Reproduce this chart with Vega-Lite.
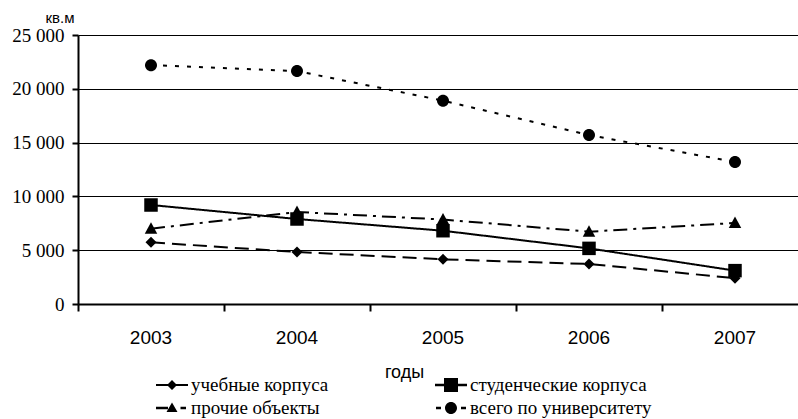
{
  "$schema": "https://vega.github.io/schema/vega-lite/v6.json",
  "width": 720,
  "height": 269,
  "autosize": {"type": "none"},
  "padding": {"left": 78, "top": 35, "right": 0, "bottom": 115},
  "background": "white",
  "config": {
    "view": {"stroke": null},
    "font": "Liberation Sans",
    "axis": {"labelColor": "black", "titleColor": "black", "titleFontWeight": "normal"}
  },
  "data": {
    "values": [
      {"year": "2003", "series": "учебные корпуса", "value": 5730},
      {"year": "2004", "series": "учебные корпуса", "value": 4830},
      {"year": "2005", "series": "учебные корпуса", "value": 4150},
      {"year": "2006", "series": "учебные корпуса", "value": 3720},
      {"year": "2007", "series": "учебные корпуса", "value": 2400},
      {"year": "2003", "series": "студенческие корпуса", "value": 9200},
      {"year": "2004", "series": "студенческие корпуса", "value": 7900},
      {"year": "2005", "series": "студенческие корпуса", "value": 6810},
      {"year": "2006", "series": "студенческие корпуса", "value": 5170},
      {"year": "2007", "series": "студенческие корпуса", "value": 3100},
      {"year": "2003", "series": "прочие объекты", "value": 7000},
      {"year": "2004", "series": "прочие объекты", "value": 8550},
      {"year": "2005", "series": "прочие объекты", "value": 7850},
      {"year": "2006", "series": "прочие объекты", "value": 6720},
      {"year": "2007", "series": "прочие объекты", "value": 7530},
      {"year": "2003", "series": "всего по университету", "value": 22200},
      {"year": "2004", "series": "всего по университету", "value": 21650},
      {"year": "2005", "series": "всего по университету", "value": 18900},
      {"year": "2006", "series": "всего по университету", "value": 15700},
      {"year": "2007", "series": "всего по университету", "value": 13200}
    ]
  },
  "resolve": {"scale": {"shape": "independent"}, "legend": {"shape": "independent"}},
  "encoding": {
    "x": {
      "field": "year",
      "type": "ordinal",
      "scale": {"type": "band", "paddingInner": 0, "paddingOuter": 0, "range": [0, 730]},
      "axis": {
        "title": "годы",
        "titleFont": "Liberation Sans",
        "titleFontSize": 18,
        "titleX": 326,
        "titleY": 73,
        "titleAlign": "center",
        "titleBaseline": "alphabetic",
        "labelAngle": 0,
        "labelFont": "Liberation Sans",
        "labelFontSize": 19,
        "labelPadding": 17,
        "bandPosition": 0,
        "tickSize": 7,
        "tickWidth": 2,
        "tickColor": "black",
        "domainColor": "black",
        "domainWidth": 2,
        "grid": false
      }
    },
    "y": {
      "field": "value",
      "type": "quantitative",
      "scale": {"domain": [0, 25000], "nice": false},
      "axis": {
        "title": "кв.м",
        "titleAngle": 0,
        "titleX": -33,
        "titleY": -13,
        "titleAlign": "left",
        "titleBaseline": "alphabetic",
        "titleFont": "Liberation Sans",
        "titleFontSize": 15,
        "values": [0, 5000, 10000, 15000, 20000, 25000],
        "labelExpr": "replace(format(datum.value, ','), ',', ' ')",
        "labelFont": "Liberation Serif",
        "labelFontSize": 19,
        "labelPadding": 8,
        "tickSize": 6,
        "tickWidth": 2,
        "tickColor": "black",
        "domainColor": "black",
        "domainWidth": 2,
        "grid": true,
        "gridColor": "black",
        "gridWidth": 1
      }
    }
  },
  "layer": [
    {
      "mark": {"type": "line", "color": "black", "strokeWidth": 2},
      "encoding": {
        "strokeDash": {
          "field": "series",
          "type": "nominal",
          "scale": {"range": [[4, 8], [14, 6, 3, 6], [1, 0], [14, 7]]},
          "legend": null
        }
      }
    },
    {
      "mark": {"type": "point", "filled": true, "color": "black", "opacity": 1, "size": 100},
      "encoding": {
        "shape": {
          "field": "series",
          "type": "nominal",
          "scale": {
            "range": [
              "M-1.2,0A1.2,1.2 0 1,0 1.2,0A1.2,1.2 0 1,0 -1.2,0Z",
              "M0,-1.3L1.25,1L-1.25,1Z",
              "M-1.35,-1.35H1.35V1.35H-1.35Z",
              "M0,-1.1L1.1,0L0,1.1L-1.1,0Z"
            ]
          },
          "legend": null
        }
      }
    },
    {
      "transform": [{"filter": "false"}],
      "mark": {"type": "point", "filled": true, "color": "black", "opacity": 1, "size": 400},
      "encoding": {
        "shape": {
          "field": "series",
          "type": "nominal",
          "scale": {
            "domain": ["учебные корпуса", "прочие объекты", "студенческие корпуса", "всего по университету"],
            "range": [
              "M-1.6,-0.1H-0.4V0.1H-1.6ZM0,-0.5L0.5,0L0,0.5L-0.5,0ZM0.4,-0.1H1.6V0.1H0.4Z",
              "M-1.6,-0.12H-0.4V0.12H-1.6ZM0,-0.55L0.55,0.4L-0.55,0.4ZM0.85,-0.12H1.4V0.12H0.85Z",
              "M-1.6,-0.13H1.6V0.13H-1.6ZM-0.7,-0.7H0.7V0.7H-0.7Z",
              "M-1.5,-0.12H-1.0V0.12H-1.5ZM-0.6,0A0.6,0.6 0 1,0 0.6,0A0.6,0.6 0 1,0 -0.6,0ZM1.0,-0.12H1.5V0.12H1.0Z"
            ]
          },
          "legend": {
            "title": null,
            "orient": "none",
            "legendX": 83,
            "legendY": 339,
            "columns": 2,
            "columnPadding": 103,
            "rowPadding": 2,
            "symbolSize": 400,
            "symbolFillColor": "black",
            "symbolOpacity": 1,
            "labelFont": "Liberation Serif",
            "labelFontSize": 19,
            "labelColor": "black",
            "labelOffset": 8,
            "labelLimit": 400
          }
        }
      }
    }
  ]
}
